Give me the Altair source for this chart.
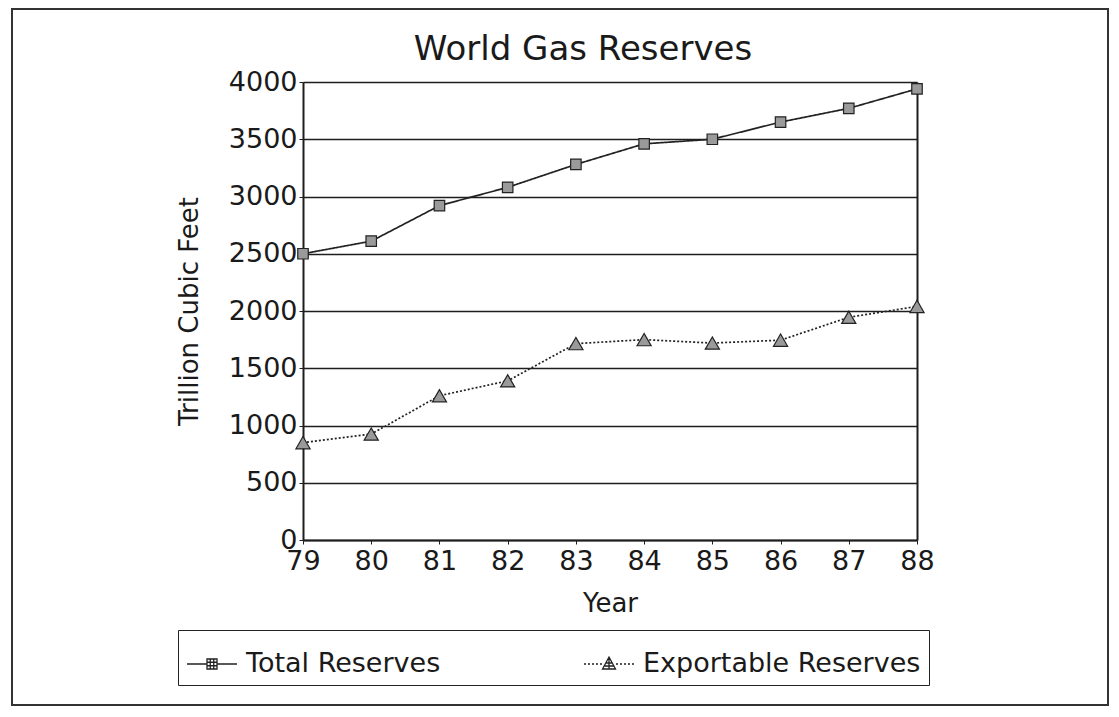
import altair as alt
import pandas as pd

# ---- data ----
years = [79, 80, 81, 82, 83, 84, 85, 86, 87, 88]
total_reserves = [2500, 2610, 2920, 3080, 3280, 3460, 3500, 3650, 3770, 3940]
exportable_reserves = [850, 925, 1260, 1390, 1715, 1750, 1720, 1745, 1945, 2040]
series_names = ["Total Reserves", "Exportable Reserves"]
y_ticks = [0, 500, 1000, 1500, 2000, 2500, 3000, 3500, 4000]
x_ticks = years

rows = []
for yr, v in zip(years, total_reserves):
    rows.append({"year": yr, "value": v, "series": series_names[0]})
for yr, v in zip(years, exportable_reserves):
    rows.append({"year": yr, "value": v, "series": series_names[1]})
df = pd.DataFrame(rows)

FONT = "DejaVu Sans"
INK = "#1a1a1a"
LINE = "#1e1e1e"
MARKER_FILL = "#9a9a9a"

x_enc = alt.X(
    "year:Q",
    scale=alt.Scale(domain=[79, 88], nice=False, zero=False),
    axis=alt.Axis(
        values=x_ticks, format="d", title="Year", grid=False,
        labelFontSize=27, titleFontSize=26, labelPadding=4, tickSize=4,
        titlePadding=16, titleFontWeight="normal", labelFlush=False,
        labelFont=FONT, titleFont=FONT, labelColor=INK, titleColor=INK,
        domainColor=LINE, domainWidth=2, tickColor=LINE,
    ),
)
y_enc = alt.Y(
    "value:Q",
    scale=alt.Scale(domain=[0, 4000], nice=False),
    axis=alt.Axis(
        values=y_ticks, format="d", title="Trillion Cubic Feet", grid=True,
        gridColor=LINE, gridWidth=1.4, gridOpacity=1,
        labelFontSize=27, titleFontSize=26, labelPadding=2, tickSize=4,
        titlePadding=26, titleFontWeight="normal",
        labelFont=FONT, titleFont=FONT, labelColor=INK, titleColor=INK,
        domainColor=LINE, domainWidth=2, tickColor=LINE,
    ),
)
# right-hand border of the plot (domain line only)
y_enc_right = alt.Y(
    "value:Q",
    axis=alt.Axis(
        orient="right", labels=False, ticks=False, grid=False, title=None,
        domainColor=LINE, domainWidth=2,
    ),
)

base = alt.Chart(df)

lines = base.mark_line(color="#222222", strokeWidth=1.7).encode(
    x=x_enc,
    y=y_enc,
    detail="series:N",
    strokeDash=alt.StrokeDash(
        "series:N",
        scale=alt.Scale(domain=series_names, range=[[1, 0], [2, 2]]),
        legend=None,
    ),
)

points = base.mark_point(filled=True, fill=MARKER_FILL, stroke="#222222",
                         strokeWidth=1.2, opacity=1).encode(
    x="year:Q",
    y=y_enc_right,
    shape=alt.Shape(
        "series:N",
        scale=alt.Scale(domain=series_names, range=["square", "triangle-up"]),
        legend=None,
    ),
    size=alt.Size(
        "series:N",
        scale=alt.Scale(domain=series_names, range=[110, 200]),
        legend=None,
    ),
)

# legend symbols: line + hatched marker (stroke only)
sym_total = ("M-1,0H-0.2M0.2,0H1"
             "M-0.2,-0.2H0.2V0.2H-0.2Z"
             "M-0.2,-0.07H0.2M-0.2,0.07H0.2M-0.07,-0.2V0.2M0.07,-0.2V0.2")
sym_export = ("M-1,0H-0.92M-0.84,0H-0.76M-0.68,0H-0.6M-0.52,0H-0.44M-0.36,0H-0.28"
              "M0.28,0H0.36M0.44,0H0.52M0.6,0H0.68M0.76,0H0.84M0.92,0H1"
              "M0,-0.28L0.26,0.2H-0.26Z"
              "M-0.11,-0.04H0.11M-0.18,0.08H0.18M0,-0.28V0.2")

legend_layer = base.mark_point(opacity=0).encode(
    x="year:Q",
    y=alt.Y("value:Q", axis=None),
    shape=alt.Shape(
        "series:N",
        scale=alt.Scale(domain=series_names, range=[sym_total, sym_export]),
        legend=alt.Legend(
            title=None, orient="none", legendX=-125, legendY=548,
            direction="horizontal", symbolSize=2500, symbolOpacity=1,
            symbolStrokeColor="#222222",
            symbolStrokeWidth=1.3, labelFontSize=27, labelFont=FONT,
            labelColor=INK, labelOffset=8, columnPadding=140,
            padding=8, strokeColor="#222222", labelLimit=400,
        ),
    ),
)

frame = alt.Chart(pd.DataFrame({"k": [0]})).mark_rect(
    filled=False, stroke="#333333", strokeWidth=2
).encode(
    x=alt.value(-291), x2=alt.value(805), y=alt.value(-73), y2=alt.value(623)
)

chart = alt.layer(frame, lines, points, legend_layer).resolve_scale(
    shape="independent"
).resolve_axis(
    y="independent"
).properties(
    width=614,
    height=458,
    autosize=alt.AutoSizeParams(type="none"),
    padding={"left": 295, "top": 74, "right": 193, "bottom": 166},
    title=alt.TitleParams(
        "World Gas Reserves", fontSize=34, font=FONT, fontWeight="normal",
        color=INK, anchor="middle", dx=-27, offset=10, baseline="alphabetic",
        dy=96,
    ),
).configure_view(
    stroke="#111111", strokeWidth=1.5
).configure(background="white")

chart.save("out.html", embed_options={"renderer": "svg", "actions": False})
